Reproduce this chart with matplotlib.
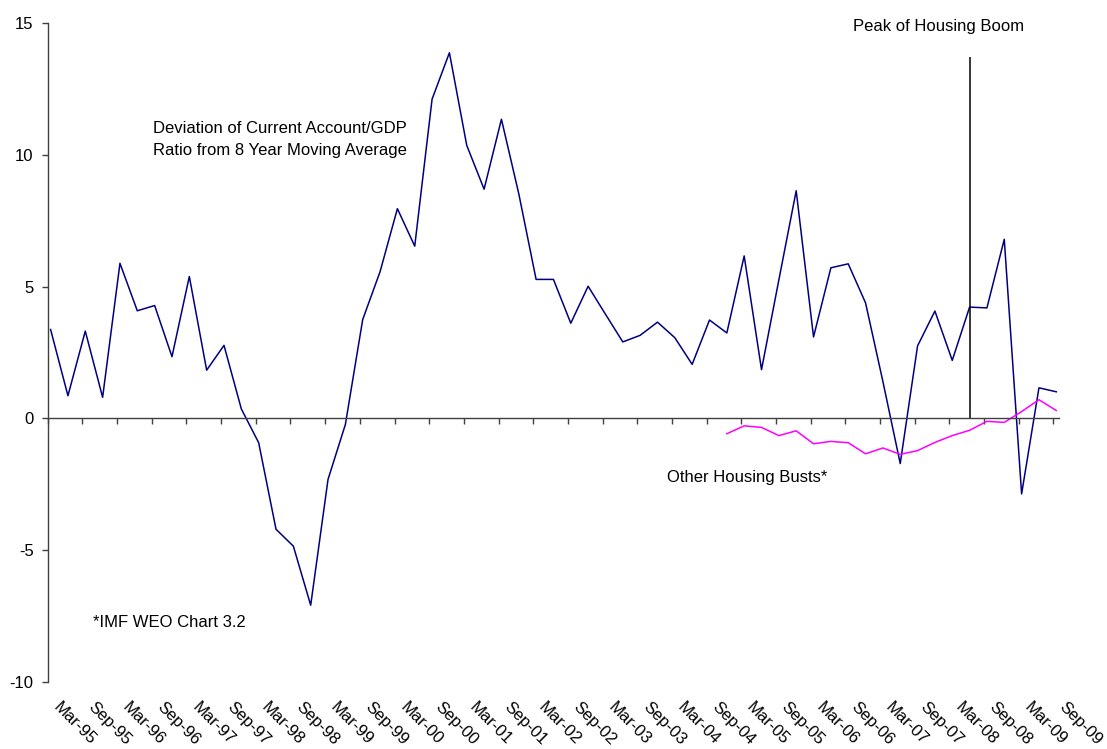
import matplotlib.pyplot as plt
import matplotlib.transforms as mtransforms

plt.rcParams['font.family'] = ['Liberation Sans', 'DejaVu Sans']
plt.rcParams['axes.unicode_minus'] = False

# quarterly, Mar-95 .. Sep-09
tick_labels = ['Mar-95', 'Sep-95', 'Mar-96', 'Sep-96', 'Mar-97', 'Sep-97',
               'Mar-98', 'Sep-98', 'Mar-99', 'Sep-99', 'Mar-00', 'Sep-00',
               'Mar-01', 'Sep-01', 'Mar-02', 'Sep-02', 'Mar-03', 'Sep-03',
               'Mar-04', 'Sep-04', 'Mar-05', 'Sep-05', 'Mar-06', 'Sep-06',
               'Mar-07', 'Sep-07', 'Mar-08', 'Sep-08', 'Mar-09', 'Sep-09']

ca_dev = [3.37, 0.86, 3.31, 0.80, 5.88, 4.08, 4.28, 2.34, 5.38, 1.83,
          2.77, 0.36, -0.92, -4.20, -4.84, -7.08, -2.31, -0.23, 3.75, 5.56,
          7.95, 6.53, 12.10, 13.86, 10.35, 8.69, 11.34, 8.52, 5.27, 5.27,
          3.61, 5.01, 3.95, 2.90, 3.15, 3.65, 3.06, 2.05, 3.73, 3.24,
          6.16, 1.85, 5.25, 8.63, 3.09, 5.71, 5.86, 4.38, 1.40, -1.71,
          2.75, 4.07, 2.20, 4.22, 4.19, 6.79, -2.86, 1.16, 1.01]

busts_start = 39  # Dec-04
other_busts = [-0.58, -0.28, -0.34, -0.65, -0.47, -0.96, -0.87, -0.92, -1.34, -1.12,
               -1.36, -1.22, -0.91, -0.65, -0.45, -0.11, -0.15, 0.26, 0.71, 0.30]

peak_quarter = 53  # Jun-08
peak_height = 13.7

fig = plt.figure(figsize=(11.07, 7.49), dpi=100)
ax = fig.add_axes([0.0431, 0.0891, 0.9137, 0.8806])

# x in months from start of Mar-95, each quarter sits mid-month
x = [3 * i + 0.5 for i in range(len(ca_dev))]
xb = [3 * (busts_start + i) + 0.5 for i in range(len(other_busts))]
ax.plot(x, ca_dev, color='#000080', lw=1.1)
ax.plot(xb, other_busts, color='#ff00ff', lw=1.1)
ax.vlines(3 * peak_quarter + 0.5, 0, peak_height, color='black', lw=1.1)

ax.set_xlim(0, 175)
ax.set_ylim(-10, 15)
ax.set_yticks([-10, -5, 0, 5, 10, 15])
ax.spines[['top', 'right']].set_visible(False)
ax.spines['bottom'].set_position(('data', 0))
for s in ['left', 'bottom']:
    ax.spines[s].set_color('#404040')
    ax.spines[s].set_linewidth(1)
ax.set_xticks(range(0, 175, 6))
ax.set_xticklabels([])
ax.tick_params(axis='x', direction='out', length=4, width=1, color='#404040')
ax.tick_params(axis='y', direction='out', length=4.2, width=1, color='#404040',
               pad=6, labelsize=12)

trans = mtransforms.blended_transform_factory(ax.transData, ax.transAxes)
for k, lab in enumerate(tick_labels):
    ax.text(6 * k + 2.3, -0.026, lab, transform=trans, rotation=-45,
            rotation_mode='anchor', ha='left', va='top', fontsize=12)

ax.text(18.2, 10.81, 'Deviation of Current Account/GDP', fontsize=12, va='baseline')
ax.text(18.2, 10.0, 'Ratio from 8 Year Moving Average', fontsize=12, va='baseline')
ax.text(139.3, 14.68, 'Peak of Housing Boom', fontsize=12, va='baseline')
ax.text(107.1, -2.42, 'Other Housing Busts*', fontsize=12, va='baseline')
ax.text(7.8, -7.90, '*IMF WEO Chart 3.2', fontsize=12, va='baseline')

fig.savefig('out.png', dpi=100)
